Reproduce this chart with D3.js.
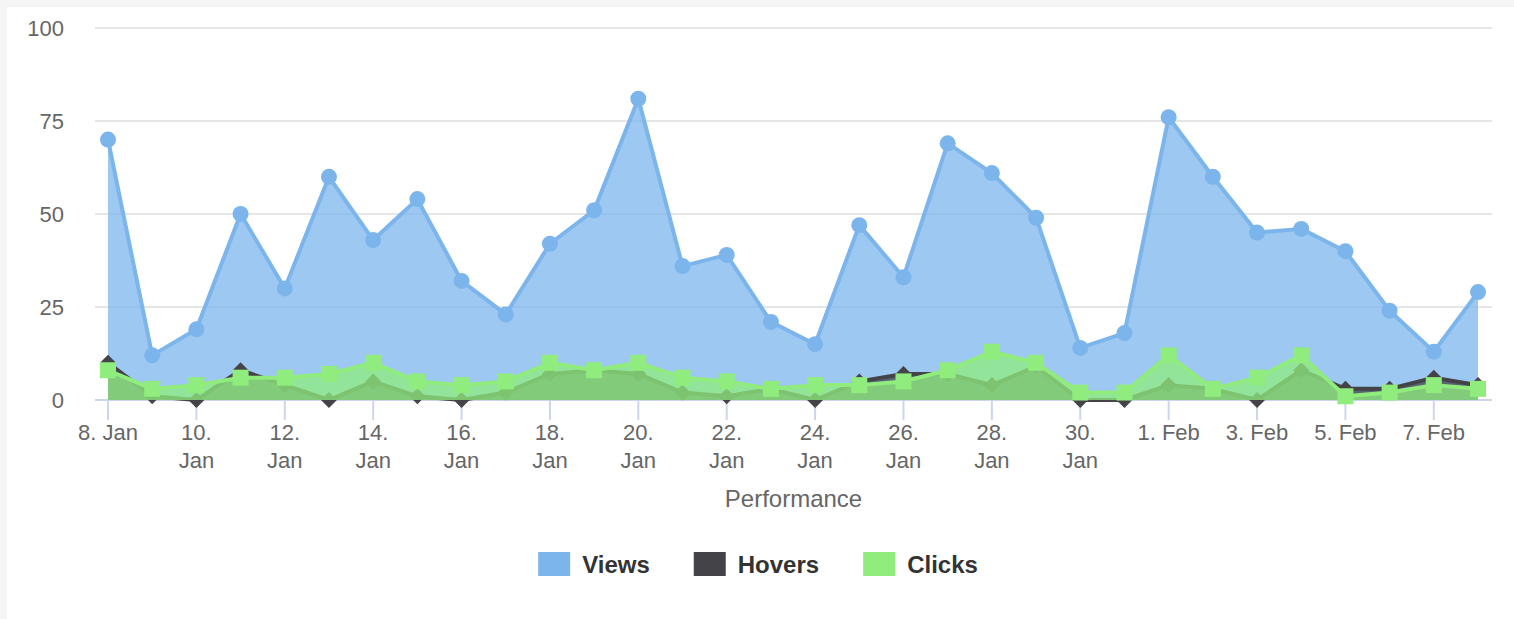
<!DOCTYPE html>
<html>
<head>
<meta charset="utf-8">
<script src="https://cdn.jsdelivr.net/npm/d3@7"></script>
<style>
body { margin:0; background:#f5f5f5; }
svg { display:block; font-family:"Liberation Sans", Arial, Helvetica, sans-serif; }
</style>
</head>
<body>
<svg id="chart" width="1514" height="619"></svg>
<script>
var days = ["2019-01-08","2019-01-09","2019-01-10","2019-01-11","2019-01-12","2019-01-13","2019-01-14","2019-01-15",
	"2019-01-16","2019-01-17","2019-01-18","2019-01-19","2019-01-20","2019-01-21","2019-01-22","2019-01-23",
	"2019-01-24","2019-01-25","2019-01-26","2019-01-27","2019-01-28","2019-01-29","2019-01-30","2019-01-31",
	"2019-02-01","2019-02-02","2019-02-03","2019-02-04","2019-02-05","2019-02-06","2019-02-07","2019-02-08"];

var views  = [70,12,19,50,30,60,43,54,32,23,42,51,81,36,39,21,15,47,33,69,61,49,14,18,76,60,45,46,40,24,13,29];
var hovers = [10,1,0,8,4,0,5,1,0,2,7,8,7,2,1,3,0,5,7,7,4,9,0,0,4,3,0,8,3,3,6,4];
var clicks = [8,3,4,6,6,7,10,5,4,5,10,8,10,6,5,3,4,4,5,8,13,10,2,2,12,3,6,12,1,2,4,3];

var yTicks = [0,25,50,75,100];
var xTickDays = ["2019-01-08","2019-01-10","2019-01-12","2019-01-14","2019-01-16","2019-01-18","2019-01-20","2019-01-22",
	"2019-01-24","2019-01-26","2019-01-28","2019-01-30","2019-02-01","2019-02-03","2019-02-05","2019-02-07"];
var xTickLabels = [["8. Jan"],["10.","Jan"],["12.","Jan"],["14.","Jan"],["16.","Jan"],["18.","Jan"],["20.","Jan"],["22.","Jan"],
	["24.","Jan"],["26.","Jan"],["28.","Jan"],["30.","Jan"],["1. Feb"],["3. Feb"],["5. Feb"],["7. Feb"]];

var seriesNames = ["Views","Hovers","Clicks"];
var seriesColors = ["#7cb5ec","#434348","#90ed7d"];
var seriesSymbols = ["circle","diamond","square"];

var parse = d3.timeParse("%Y-%m-%d");
var svg = d3.select("#chart");

// white panel, page grey shows at top/left edge
svg.append("rect").attr("x",7).attr("y",7).attr("width",1507).attr("height",612).attr("fill","#ffffff");

var plotLeft = 95, plotRight = 1492;
var x = d3.scaleTime().domain([parse(days[0]), parse(days[days.length-1])]).range([108,1478]);
var y = d3.scaleLinear().domain([0,100]).range([400,28]);

// grid
svg.append("g").selectAll("line").data(yTicks.filter(function(d){return d>0;})).enter().append("line")
	.attr("x1",plotLeft).attr("x2",plotRight)
	.attr("y1",function(d){return y(d);}).attr("y2",function(d){return y(d);})
	.attr("stroke","#e6e6e6").attr("stroke-width",2);

// y labels
svg.append("g").selectAll("text").data(yTicks).enter().append("text")
	.attr("x",64).attr("y",function(d){return y(d)+8;})
	.attr("text-anchor","end").attr("font-size",22).attr("fill","#666666")
	.text(function(d){return d;});

// x axis line + ticks
svg.append("line").attr("x1",plotLeft).attr("x2",plotRight).attr("y1",y(0)).attr("y2",y(0))
	.attr("stroke","#ccd6eb").attr("stroke-width",2);

var xt = svg.append("g").selectAll("g").data(xTickDays).enter().append("g")
	.attr("transform",function(d){return "translate("+x(parse(d))+",0)";});
xt.append("line").attr("y1",y(0)).attr("y2",y(0)+20).attr("stroke","#ccd6eb").attr("stroke-width",2);
xt.each(function(d,i){
	var g = d3.select(this);
	xTickLabels[i].forEach(function(line,j){
		g.append("text").attr("x",0).attr("y",440+j*28)
		.attr("text-anchor","middle").attr("font-size",22).attr("fill","#666666")
		.text(line);
	});
});

svg.append("text").attr("x",(plotLeft+plotRight)/2).attr("y",507)
	.attr("text-anchor","middle").attr("font-size",24).attr("fill","#666666")
	.text("Performance");

// series, drawn in order so later areas sit on top
var allSeries = [views, hovers, clicks];

allSeries.forEach(function(vals,si){
	var pts = vals.map(function(v,i){return {date:parse(days[i]), value:v};});
	var color = seriesColors[si];
	var area = d3.area().x(function(d){return x(d.date);}).y0(y(0)).y1(function(d){return y(d.value);});
	var line = d3.line().x(function(d){return x(d.date);}).y(function(d){return y(d.value);});
	var g = svg.append("g").attr("class","series series-"+si);
	g.append("path").datum(pts).attr("d",area).attr("fill",color).attr("fill-opacity",0.75);
	g.append("path").datum(pts).attr("d",line).attr("fill","none").attr("stroke",color)
		.attr("stroke-width",4).attr("stroke-linejoin","round").attr("stroke-linecap","round");
	var sym = seriesSymbols[si];
	g.selectAll(".marker").data(pts).enter().append("path").attr("class","marker")
		.attr("transform",function(d){return "translate("+x(d.date)+","+y(d.value)+")";})
		.attr("d",function(){
			if(sym=="circle") return d3.symbol().type(d3.symbolCircle).size(Math.PI*64)();
			if(sym=="square") return d3.symbol().type(d3.symbolSquare).size(256)();
			return "M0,-8L8,0L0,8L-8,0Z";
		})
		.attr("fill",color);
});

// legend
var legend = svg.append("g");
var items = legend.selectAll("g").data(seriesNames).enter().append("g");
items.append("rect").attr("x",0).attr("y",-21).attr("width",32).attr("height",24)
	.attr("fill",function(d,i){return seriesColors[i];});
items.append("text").attr("x",44).attr("y",0).attr("font-size",24).attr("font-weight","bold")
	.attr("fill","#333333").text(function(d){return d;});
var lx = 0, widths = [];
items.each(function(){
	var w = 44 + this.querySelector("text").getComputedTextLength();
	widths.push(w);
});
var total = d3.sum(widths) + 44*(widths.length-1);
lx = 758 - total/2;
items.attr("transform",function(d,i){
	var t = "translate("+lx+",573)";
	lx += widths[i] + 44;
	return t;
});
</script>
</body>
</html>
